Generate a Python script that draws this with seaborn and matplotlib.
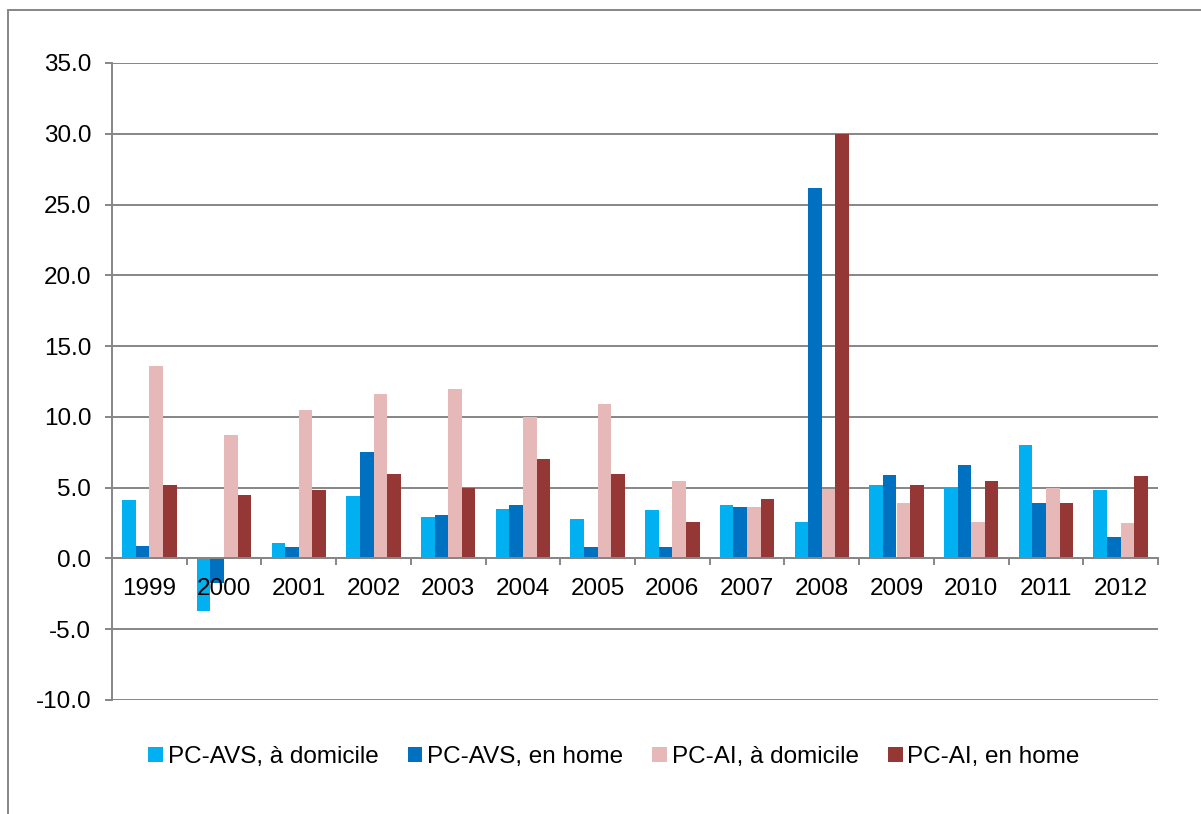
import pandas as pd
import matplotlib.pyplot as plt
import numpy as np
import seaborn as sns
from matplotlib.lines import Line2D
from matplotlib.ticker import FormatStrFormatter

# Values
years = ['1999', '2000', '2001', '2002', '2003', '2004', '2005',
         '2006', '2007', '2008', '2009', '2010', '2011', '2012']
avs_domicile = [4.1, -3.7, 1.1, 4.4, 2.9, 3.5, 2.8, 3.4, 3.8, 2.6, 5.2, 5.0, 8.0, 4.8]
avs_home = [0.9, -1.7, 0.8, 7.5, 3.1, 3.8, 0.8, 0.8, 3.6, 26.2, 5.9, 6.6, 3.9, 1.5]
ai_domicile = [13.6, 8.7, 10.5, 11.6, 12.0, 10.0, 10.9, 5.5, 3.6, 4.9, 3.9, 2.6, 5.0, 2.5]
ai_home = [5.2, 4.5, 4.8, 6.0, 5.0, 7.0, 6.0, 2.6, 4.2, 30.0, 5.2, 5.5, 3.9, 5.8]

series = ['PC-AVS, à domicile', 'PC-AVS, en home', 'PC-AI, à domicile', 'PC-AI, en home']
colors = ['#00B0F0', '#0070C0', '#E6B9B8', '#953735']

df = pd.DataFrame({'year': years,
                   series[0]: avs_domicile,
                   series[1]: avs_home,
                   series[2]: ai_domicile,
                   series[3]: ai_home})
long_df = df.melt(id_vars='year', var_name='serie', value_name='value')

sns.set_style('white')
plt.rcParams['font.family'] = ['Liberation Sans', 'DejaVu Sans']
plt.rcParams['text.color'] = 'black'
plt.rcParams['xtick.color'] = 'black'
plt.rcParams['ytick.color'] = 'black'

grid_col = '#868686'
fs = 17.5

fig = plt.figure(figsize=(12.01, 8.14), dpi=100)
ax = fig.add_axes([112 / 1201, 1 - 700 / 814, (1158 - 112) / 1201, (700 - 63) / 814])

sns.barplot(data=long_df, x='year', y='value', hue='serie', hue_order=series,
            palette=colors, saturation=1, width=0.73, ax=ax, errorbar=None,
            linewidth=0)

ax.set_ylim(-10, 35)
ax.set_xlim(-0.5, len(years) - 0.5)
ax.set_yticks(np.arange(-10, 36, 5))
ax.yaxis.set_major_formatter(FormatStrFormatter('%.1f'))
ax.grid(axis='y', color=grid_col, linewidth=1.4)
ax.set_axisbelow(True)
ax.xaxis.set_zorder(3)  # year labels sit over the negative bars
ax.set_xlabel('')
ax.set_ylabel('')

for s in ['top', 'right']:
    ax.spines[s].set_visible(False)
ax.spines['left'].set_color(grid_col)
ax.spines['left'].set_linewidth(1.4)
ax.spines['bottom'].set_position(('data', 0))
ax.spines['bottom'].set_color(grid_col)
ax.spines['bottom'].set_linewidth(1.4)
ax.spines['bottom'].set_zorder(3)

# year labels centred, tick marks on category boundaries
ax.set_xticks(np.arange(len(years)))
ax.set_xticklabels(years)
ax.set_xticks(np.arange(-0.5, len(years), 1), minor=True)
ax.tick_params(axis='x', which='major', length=0, pad=14, labelsize=fs)
ax.tick_params(axis='x', which='minor', length=5, width=1.4, color=grid_col, direction='out', bottom=True)
ax.tick_params(axis='y', length=5, width=1.4, color=grid_col, labelcolor='black',
               direction='out', left=True, pad=10, labelsize=fs)

handles, labels = ax.get_legend_handles_labels()
ax.legend(handles, labels, loc='center', bbox_to_anchor=(614 / 1201, 1 - 757 / 814),
          bbox_transform=fig.transFigure, ncol=4, frameon=False, fontsize=fs,
          handlelength=0.6, handleheight=0.6, handletextpad=0.2, columnspacing=1.2)

# outer chart frame (top and left edges visible)
fig.add_artist(Line2D([7.5 / 1201, 7.5 / 1201], [0, 1 - 10 / 814], transform=fig.transFigure,
                      color=grid_col, linewidth=1.4))
fig.add_artist(Line2D([7.5 / 1201, 1], [1 - 10 / 814, 1 - 10 / 814], transform=fig.transFigure,
                      color=grid_col, linewidth=1.4))

fig.savefig('out.png', dpi=100)
